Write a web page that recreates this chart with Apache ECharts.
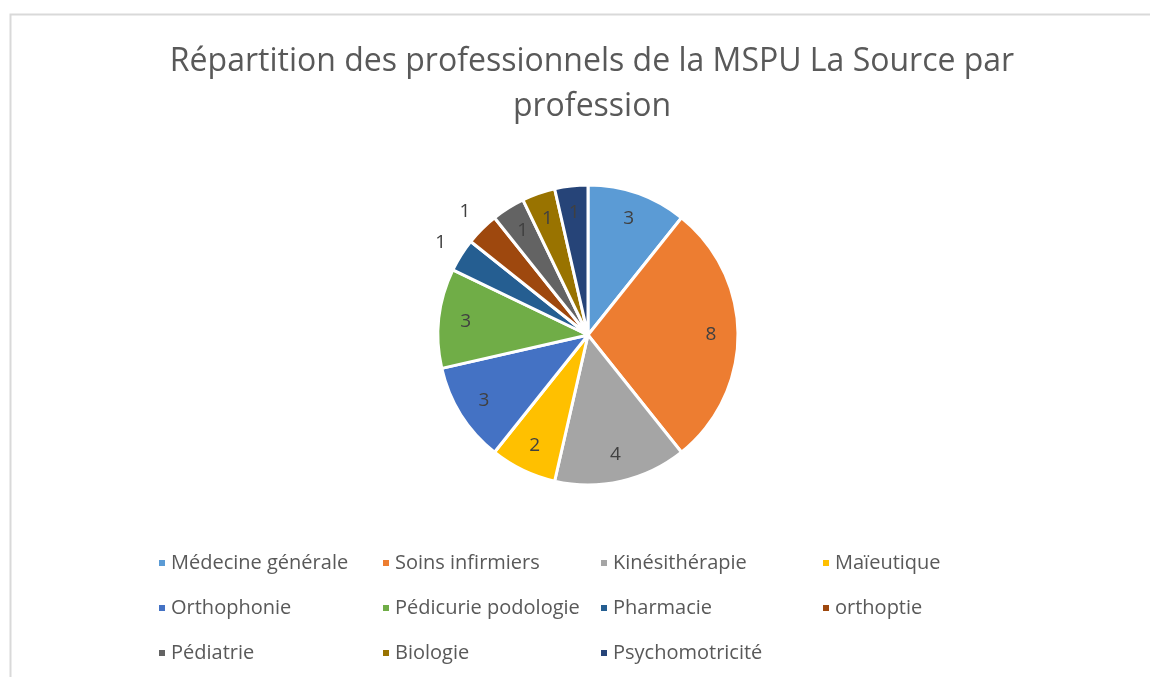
<!DOCTYPE html>
<html>
<head>
<meta charset="utf-8">
<script src="https://cdn.jsdelivr.net/npm/echarts@6/dist/echarts.min.js"></script>
<style>
  html, body { margin: 0; padding: 0; background: #fff; }
  #chart { width: 1150px; height: 677px; }
</style>
</head>
<body>
<div id="chart"></div>
<script>
const professions = [
  'Médecine générale', 'Soins infirmiers', 'Kinésithérapie', 'Maïeutique',
  'Orthophonie', 'Pédicurie podologie', 'Pharmacie', 'orthoptie',
  'Pédiatrie', 'Biologie', 'Psychomotricité'
];
const counts = [3, 8, 4, 2, 3, 3, 1, 1, 1, 1, 1];
const colors = [
  '#5B9BD5', '#ED7D31', '#A5A5A5', '#FFC000', '#4472C4', '#70AD47',
  '#255E91', '#9E480E', '#636363', '#997300', '#264478'
];
// les étiquettes placées à l'extérieur (comme dans Excel)
const outsideLabels = ['Pharmacie', 'orthoptie'];

// colonnes de la légende
const legendColumns = [
  ['Médecine générale', 'Orthophonie', 'Pédiatrie'],
  ['Soins infirmiers', 'Pédicurie podologie', 'Biologie'],
  ['Kinésithérapie', 'Pharmacie', 'Psychomotricité'],
  ['Maïeutique', 'orthoptie']
];
const legendLeft = [152, 376, 594, 816];

const chart = echarts.init(document.getElementById('chart'));

const center = [588, 335];
const font = '"Open Sans", "DejaVu Sans", sans-serif';

const baseData = professions.map((name, i) => ({
  name: name,
  value: counts[i],
  itemStyle: { color: colors[i] }
}));

const labelStyle = {
  color: '#404040',
  fontSize: 19,
  fontFamily: font,
  formatter: '{c}'
};

const option = {
  animation: false,
  title: {
    text: 'Répartition des professionnels de la MSPU La Source par\nprofession',
    left: 587,
    textAlign: 'center',
    top: 34,
    textStyle: {
      color: '#595959',
      fontSize: 32,
      fontWeight: 'normal',
      fontFamily: font,
      lineHeight: 45
    }
  },
  legend: legendColumns.map((col, k) => ({
    orient: 'vertical',
    left: legendLeft[k],
    top: 546,
    itemWidth: 8,
    itemHeight: 8,
    itemGap: 21,
    icon: 'rect',
    selectedMode: false,
    data: col.map(n => ({
      name: n,
      itemStyle: { color: colors[professions.indexOf(n)] }
    })),
    textStyle: {
      color: '#595959',
      fontSize: 20,
      fontFamily: font,
      lineHeight: 24
    }
  })),
  graphic: [{
    type: 'polyline',
    shape: { points: [[10.5, 677], [10.5, 14.5], [1150, 14.5]] },
    style: { stroke: '#d9d9d9', lineWidth: 2, fill: null },
    silent: true
  }],
  series: [
    {
      type: 'pie',
      center: center,
      radius: [0, 150],
      startAngle: 90,
      data: baseData,
      label: { show: false },
      labelLine: { show: false },
      itemStyle: { borderColor: '#fff', borderWidth: 3 },
      emphasis: { disabled: true }
    },
    {
      // étiquettes intérieures
      type: 'pie',
      center: center,
      radius: [90, 150],
      startAngle: 90,
      silent: true,
      data: professions.map((name, i) => ({
        name: name,
        value: counts[i],
        label: { show: outsideLabels.indexOf(name) < 0 }
      })),
      itemStyle: { color: 'rgba(0,0,0,0)' },
      label: Object.assign({ position: 'inner' }, labelStyle),
      labelLine: { show: false },
      emphasis: { disabled: true }
    },
    {
      // étiquettes extérieures
      type: 'pie',
      center: center,
      radius: [158, 184],
      startAngle: 90,
      silent: true,
      data: professions.map((name, i) => ({
        name: name,
        value: counts[i],
        label: { show: outsideLabels.indexOf(name) >= 0 }
      })),
      itemStyle: { color: 'rgba(0,0,0,0)' },
      label: Object.assign({ position: 'inner' }, labelStyle),
      labelLine: { show: false },
      emphasis: { disabled: true }
    }
  ]
};

chart.setOption(option);
</script>
</body>
</html>
